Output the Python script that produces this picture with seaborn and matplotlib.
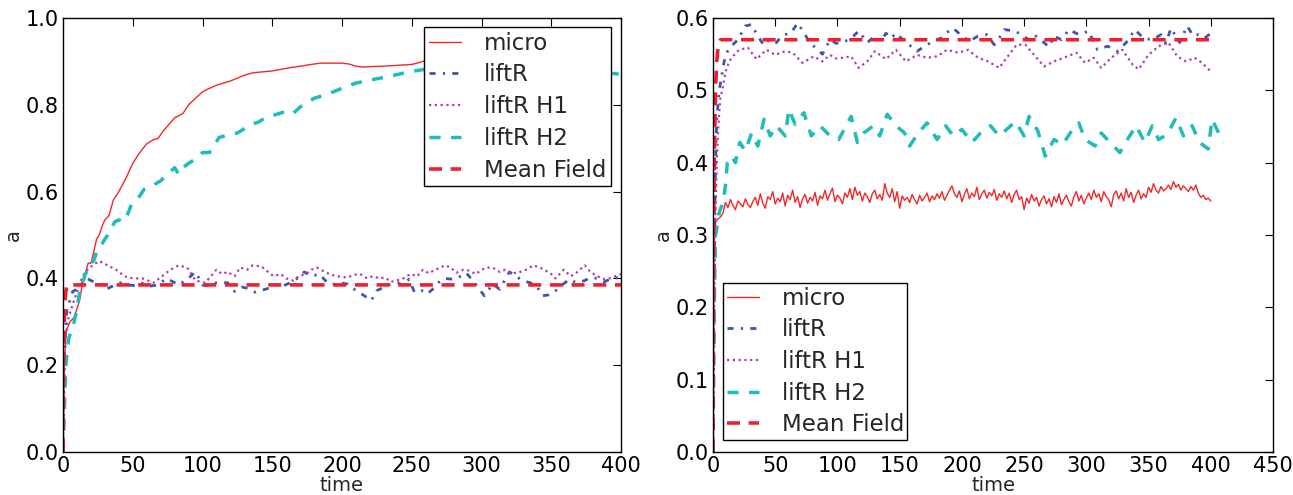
import numpy as np
import pandas as pd
import matplotlib
matplotlib.use("Agg")
import matplotlib.pyplot as plt
import seaborn as sns

# ---------------- LEFT PANEL DATA ----------------
L_micro_t = [0, 1, 2, 3, 5, 8, 10, 12, 14, 16, 18, 20, 22, 24, 26, 28, 30, 33, 36, 40, 45, 50, 55, 60,
             65, 68, 72, 76, 80, 83, 86, 90, 95, 100, 105, 110, 120, 130, 135, 140, 150, 160, 170, 180,
             185, 190, 200, 205, 210, 215, 220, 230, 240, 250, 255, 260, 270, 280, 290, 300, 320, 340, 360, 380]
L_micro_y = [0.0, 0.20, 0.27, 0.285, 0.30, 0.31, 0.33, 0.35, 0.39, 0.41, 0.435, 0.435, 0.46, 0.49, 0.50,
             0.52, 0.535, 0.545, 0.58, 0.60, 0.63, 0.665, 0.69, 0.71, 0.72, 0.722, 0.74, 0.755, 0.77, 0.775,
             0.78, 0.80, 0.815, 0.83, 0.838, 0.845, 0.855, 0.868, 0.873, 0.875, 0.878, 0.884, 0.889, 0.894,
             0.896, 0.896, 0.896, 0.894, 0.889, 0.887, 0.888, 0.889, 0.891, 0.893, 0.897, 0.902, 0.905,
             0.907, 0.908, 0.909, 0.910, 0.911, 0.911, 0.912]

L_liftR_t = [0, 1, 2, 3, 5, 7, 10, 14, 17, 22, 28, 31, 36, 41, 47, 52, 56, 62, 68, 74, 79, 83, 89, 95, 100,
             105, 110, 118, 123, 128, 133, 138, 145, 150, 154, 158, 163, 168, 173, 178, 184, 188, 193, 198,
             204, 210, 216, 221, 225, 229, 233, 240, 244, 248, 252, 257, 261, 265, 269, 273, 280, 285, 289,
             295, 302, 308, 313, 320, 325, 329, 335, 340, 344, 348, 352, 357, 363, 368, 374, 378, 383, 388,
             392, 396, 400]
L_liftR_y = [0.0, 0.20, 0.30, 0.33, 0.35, 0.37, 0.375, 0.39, 0.40, 0.392, 0.385, 0.375, 0.383, 0.39, 0.385,
             0.383, 0.39, 0.382, 0.385, 0.40, 0.392, 0.385, 0.398, 0.415, 0.385, 0.383, 0.39, 0.39, 0.37,
             0.38, 0.377, 0.368, 0.375, 0.38, 0.387, 0.383, 0.39, 0.40, 0.415, 0.405, 0.41, 0.395, 0.385,
             0.39, 0.387, 0.372, 0.36, 0.349, 0.372, 0.378, 0.385, 0.39, 0.383, 0.398, 0.368, 0.372, 0.364,
             0.375, 0.39, 0.40, 0.398, 0.405, 0.413, 0.39, 0.36, 0.387, 0.375, 0.415, 0.405, 0.395, 0.39,
             0.38, 0.36, 0.362, 0.368, 0.383, 0.398, 0.39, 0.395, 0.402, 0.40, 0.392, 0.398, 0.40, 0.405]

L_H1_t = [0, 1, 2, 4, 8, 14, 19, 26, 32, 38, 44, 50, 57, 65, 71, 77, 83, 89, 95, 102, 110, 114, 118, 123,
          127, 132, 136, 142, 147, 151, 156, 160, 165, 169, 174, 178, 182, 186, 191, 196, 204, 208, 213, 218,
          222, 227, 231, 235, 239, 244, 249, 254, 258, 262, 267, 274, 278, 282, 287, 291, 296, 300, 304, 308,
          313, 317, 321, 326, 332, 337, 342, 346, 350, 353, 359, 364, 368, 374, 378, 383, 388, 392, 396, 400]
L_H1_y = [0.0, 0.20, 0.27, 0.31, 0.35, 0.405, 0.425, 0.44, 0.43, 0.42, 0.405, 0.40, 0.40, 0.39, 0.405,
          0.42, 0.43, 0.425, 0.395, 0.39, 0.42, 0.41, 0.415, 0.405, 0.425, 0.42, 0.43, 0.428, 0.415, 0.405,
          0.41, 0.40, 0.395, 0.405, 0.41, 0.42, 0.425, 0.418, 0.41, 0.405, 0.402, 0.408, 0.41, 0.40, 0.405,
          0.40, 0.402, 0.392, 0.395, 0.40, 0.41, 0.405, 0.42, 0.412, 0.42, 0.43, 0.425, 0.413, 0.42, 0.418,
          0.41, 0.42, 0.425, 0.425, 0.415, 0.42, 0.412, 0.413, 0.42, 0.43, 0.425, 0.418, 0.41, 0.40, 0.42,
          0.405, 0.413, 0.43, 0.415, 0.405, 0.398, 0.40, 0.405, 0.41]

L_H2_t = [0, 2, 4, 6, 8, 10, 12, 14, 16, 18, 20, 22, 25, 28, 31, 34, 37, 40, 43, 46, 49, 52, 55, 58, 62,
          65, 70, 75, 80, 83, 86, 90, 95, 100, 105, 108, 112, 118, 125, 130, 135, 140, 145, 150, 155, 160,
          165, 170, 175, 180, 190, 200, 210, 220, 230, 240, 250, 260, 280, 300, 320, 340, 360, 380, 395, 400]
L_H2_y = [0.0, 0.20, 0.26, 0.28, 0.30, 0.33, 0.37, 0.39, 0.41, 0.42, 0.435, 0.44, 0.47, 0.48, 0.495, 0.51,
          0.53, 0.535, 0.53, 0.545, 0.57, 0.58, 0.59, 0.605, 0.61, 0.615, 0.625, 0.64, 0.655, 0.64, 0.655,
          0.665, 0.675, 0.69, 0.69, 0.705, 0.725, 0.73, 0.735, 0.745, 0.755, 0.76, 0.77, 0.775, 0.78, 0.785,
          0.78, 0.795, 0.805, 0.815, 0.825, 0.838, 0.85, 0.857, 0.863, 0.87, 0.877, 0.882, 0.885, 0.885,
          0.88, 0.878, 0.875, 0.873, 0.872, 0.87]

L_MF_t = [0, 0.5, 1, 1.5, 2, 3, 400]
L_MF_y = [0.0, 0.20, 0.30, 0.35, 0.37, 0.385, 0.385]

# ---------------- RIGHT PANEL DATA ----------------
R_micro_t0 = [0, 1, 2, 4, 6, 8]
R_micro_y0 = [0.0, 0.30, 0.318, 0.322, 0.325, 0.33]
R_micro_y = [
    0.345, 0.338, 0.349, 0.341, 0.335, 0.347, 0.343, 0.339, 0.350, 0.342,
    0.338, 0.346, 0.352, 0.341, 0.357, 0.344, 0.337, 0.353, 0.349, 0.360,
    0.343, 0.351, 0.346, 0.358, 0.340, 0.355, 0.349, 0.362, 0.345, 0.353,
    0.338, 0.350, 0.356, 0.344, 0.352, 0.347, 0.359, 0.341, 0.354, 0.350,
    0.362, 0.348, 0.357, 0.365, 0.346, 0.355, 0.351, 0.343, 0.358, 0.352,
    0.364, 0.349, 0.366, 0.355, 0.360, 0.347, 0.358, 0.353, 0.345, 0.357,
    0.362, 0.350, 0.356, 0.348, 0.371, 0.358, 0.352, 0.364, 0.346, 0.360,
    0.337, 0.354, 0.348, 0.352, 0.345, 0.356, 0.349, 0.343, 0.355, 0.347,
    0.352, 0.358, 0.346, 0.354, 0.349, 0.357, 0.351, 0.360, 0.348, 0.355,
    0.362, 0.368, 0.357, 0.352, 0.361, 0.346, 0.356, 0.364, 0.350, 0.358,
    0.353, 0.366, 0.349, 0.357, 0.362, 0.351, 0.359, 0.354, 0.363, 0.348,
    0.357, 0.352, 0.361, 0.350, 0.358, 0.345, 0.356, 0.362, 0.349, 0.353,
    0.335, 0.351, 0.344, 0.356, 0.347, 0.352, 0.340, 0.349, 0.354, 0.343,
    0.350, 0.339, 0.353, 0.345, 0.357, 0.342, 0.349, 0.355, 0.346, 0.340,
    0.353, 0.360, 0.347, 0.355, 0.343, 0.351, 0.358, 0.349, 0.362, 0.352,
    0.357, 0.346, 0.360, 0.353, 0.349, 0.339, 0.356, 0.361, 0.350, 0.358,
    0.347, 0.364, 0.352, 0.359, 0.345, 0.355, 0.362, 0.350, 0.357, 0.352,
    0.366, 0.359, 0.371, 0.362, 0.358, 0.367, 0.361, 0.364, 0.369, 0.363,
    0.374, 0.366, 0.370, 0.362, 0.368, 0.364, 0.360, 0.367, 0.362, 0.369,
    0.358, 0.352, 0.355, 0.349, 0.351, 0.347]
R_micro_step = 2  # time spacing of the listed samples, starting at t = 10

R_liftR_t = [0, 1, 2, 3, 5, 7, 9, 11, 14, 17, 20, 26, 31, 36, 41, 45, 51, 55, 58, 63, 68, 74, 78, 81, 88,
             94, 99, 104, 111, 117, 124, 130, 135, 139, 143, 147, 155, 160, 164, 170, 177, 183, 188, 193,
             200, 206, 213, 220, 226, 230, 234, 243, 249, 254, 258, 266, 270, 274, 280, 286, 294, 302, 305,
             309, 317, 321, 325, 332, 339, 346, 353, 360, 364, 368, 375, 381, 386, 390, 395, 400]
R_liftR_y = [0.0, 0.25, 0.40, 0.46, 0.50, 0.52, 0.54, 0.552, 0.56, 0.565, 0.57, 0.589, 0.591, 0.575,
             0.562, 0.57, 0.566, 0.575, 0.577, 0.58, 0.593, 0.577, 0.565, 0.561, 0.55, 0.57, 0.565, 0.566,
             0.572, 0.582, 0.566, 0.575, 0.568, 0.579, 0.572, 0.579, 0.566, 0.56, 0.554, 0.561, 0.568,
             0.572, 0.58, 0.586, 0.575, 0.568, 0.575, 0.577, 0.563, 0.572, 0.584, 0.582, 0.575, 0.57, 0.577,
             0.566, 0.56, 0.575, 0.57, 0.584, 0.577, 0.582, 0.57, 0.556, 0.561, 0.558, 0.554, 0.566, 0.584,
             0.572, 0.57, 0.577, 0.565, 0.586, 0.566, 0.589, 0.575, 0.577, 0.572, 0.579]

R_H1_t = [0, 1, 2, 3, 4, 5, 6, 8, 10, 13, 16, 21, 28, 35, 39, 43, 50, 58, 64, 72, 81, 88, 94, 99, 104, 111,
          117, 124, 130, 135, 139, 147, 155, 160, 164, 172, 180, 188, 197, 205, 213, 221, 230, 236, 244, 251,
          258, 266, 274, 282, 292, 299, 306, 312, 320, 329, 337, 342, 350, 358, 366, 373, 380, 387, 393, 400]
R_H1_y = [0.0, 0.20, 0.33, 0.40, 0.44, 0.47, 0.49, 0.505, 0.525, 0.54, 0.547, 0.556, 0.559, 0.543, 0.55,
          0.556, 0.549, 0.554, 0.552, 0.538, 0.547, 0.54, 0.549, 0.544, 0.545, 0.547, 0.531, 0.54, 0.554,
          0.548, 0.543, 0.556, 0.54, 0.545, 0.549, 0.545, 0.547, 0.556, 0.552, 0.556, 0.545, 0.54, 0.531,
          0.545, 0.563, 0.563, 0.549, 0.533, 0.54, 0.545, 0.552, 0.538, 0.545, 0.531, 0.545, 0.556, 0.536,
          0.529, 0.549, 0.561, 0.566, 0.547, 0.54, 0.545, 0.538, 0.526]

R_H2_t = [0, 1, 2, 3, 5, 8, 10, 11.5, 15, 18, 21.5, 26, 31, 36, 41, 46, 51, 58, 61, 66, 73, 79, 86, 94,
          101, 107, 111, 116, 121, 129, 134, 140, 147, 154, 158, 165, 172, 180, 187, 193, 200, 208, 215,
          223, 230, 236, 243, 250, 254, 261, 267, 274, 281, 287, 294, 299, 307, 312, 319, 327, 333, 340,
          347, 353, 358, 365, 372, 378, 385, 391, 398, 401, 410]
R_H2_y = [0.0, 0.20, 0.30, 0.308, 0.331, 0.345, 0.368, 0.40, 0.409, 0.40, 0.428, 0.416, 0.441, 0.423, 0.46,
          0.437, 0.451, 0.437, 0.474, 0.453, 0.469, 0.437, 0.451, 0.437, 0.432, 0.451, 0.464, 0.428, 0.441,
          0.451, 0.437, 0.467, 0.451, 0.441, 0.423, 0.441, 0.455, 0.432, 0.451, 0.437, 0.446, 0.428, 0.441,
          0.451, 0.437, 0.446, 0.457, 0.437, 0.464, 0.444, 0.409, 0.432, 0.425, 0.441, 0.455, 0.432, 0.423,
          0.441, 0.428, 0.414, 0.432, 0.451, 0.428, 0.451, 0.432, 0.439, 0.462, 0.437, 0.451, 0.428, 0.419,
          0.46, 0.428]

R_MF_t = [0, 0.5, 1, 2, 3, 4, 5, 6, 400]
R_MF_y = [0.0, 0.25, 0.40, 0.50, 0.54, 0.558, 0.566, 0.57, 0.57]

labels = ["micro", "liftR", "liftR H1", "liftR H2", "Mean Field"]

# ---------------- STYLE ----------------
sns.set_style("white")
plt.rcParams["font.family"] = ["DejaVu Sans"]
plt.rcParams["xtick.direction"] = "in"
plt.rcParams["ytick.direction"] = "in"

styles = {
    "micro": dict(color="#f02828", linestyle="-", linewidth=1.0),
    "liftR": dict(color="#3a56b0", linestyle=(0, (2.2, 2.6, 0.8, 2.6)), linewidth=2.0),
    "liftR H1": dict(color="#b03cb0", linestyle=(0, (1.0, 1.6)), linewidth=1.6),
    "liftR H2": dict(color="#1fbcbc", linestyle=(0, (3.2, 3.0)), linewidth=2.5),
    "Mean Field": dict(color="#ee2030", linestyle=(0, (3.6, 2.4)), linewidth=2.6),
}

fig = plt.figure(figsize=(12.93, 4.95), dpi=100)
axL = fig.add_axes([63 / 1293, 43 / 495, 558 / 1293, 434 / 495])
axR = fig.add_axes([713 / 1293, 43 / 495, 560 / 1293, 434 / 495])

R_micro_t = R_micro_t0 + [10 + R_micro_step * i for i in range(len(R_micro_y))]
R_micro_all = R_micro_y0 + R_micro_y

left_series = [(L_micro_t, L_micro_y), (L_liftR_t, L_liftR_y), (L_H1_t, L_H1_y),
               (L_H2_t, L_H2_y), (L_MF_t, L_MF_y)]
right_series = [(R_micro_t, R_micro_all), (R_liftR_t, R_liftR_y), (R_H1_t, R_H1_y),
                (R_H2_t, R_H2_y), (R_MF_t, R_MF_y)]


def draw(ax, series):
    for lab, (t, y) in zip(labels, series):
        df = pd.DataFrame({"time": t, "a": y})
        sns.lineplot(data=df, x="time", y="a", ax=ax, label=lab, sort=False,
                     estimator=None, **styles[lab])


draw(axL, left_series)
draw(axR, right_series)

axL.set_xlim(0, 400)
axL.set_ylim(0, 1.0)
axL.set_xticks([0, 50, 100, 150, 200, 250, 300, 350, 400])
axL.set_yticks([0.0, 0.2, 0.4, 0.6, 0.8, 1.0])
axR.set_xlim(0, 450)
axR.set_ylim(0, 0.6)
axR.set_xticks([0, 50, 100, 150, 200, 250, 300, 350, 400, 450])
axR.set_yticks([0.0, 0.1, 0.2, 0.3, 0.4, 0.5, 0.6])

for ax in (axL, axR):
    ax.tick_params(axis="both", which="both", direction="in", top=True, right=True,
                   length=6, width=0.8, labelsize=15, pad=3, colors="black")
    for s in ax.spines.values():
        s.set_color("black")
        s.set_linewidth(1.0)
    ax.set_xlabel("time", fontsize=14, labelpad=0)
    ax.set_ylabel("a", fontsize=14, labelpad=2)
    ax.grid(False)

legL = axL.legend(loc="upper right", bbox_to_anchor=(0.982, 0.979), borderaxespad=0,
                  fontsize=16.5, frameon=True, fancybox=False, edgecolor="black",
                  framealpha=1, handlelength=1.4, handletextpad=1.0, labelspacing=0.38,
                  borderpad=0.2)
legR = axR.legend(loc="lower left", bbox_to_anchor=(0.018, 0.028), borderaxespad=0,
                  fontsize=16.5, frameon=True, fancybox=False, edgecolor="black",
                  framealpha=1, handlelength=1.4, handletextpad=1.0, labelspacing=0.38,
                  borderpad=0.15)
for lg in (legL, legR):
    lg.get_frame().set_linewidth(1.0)

fig.savefig("out.png", dpi=100)
